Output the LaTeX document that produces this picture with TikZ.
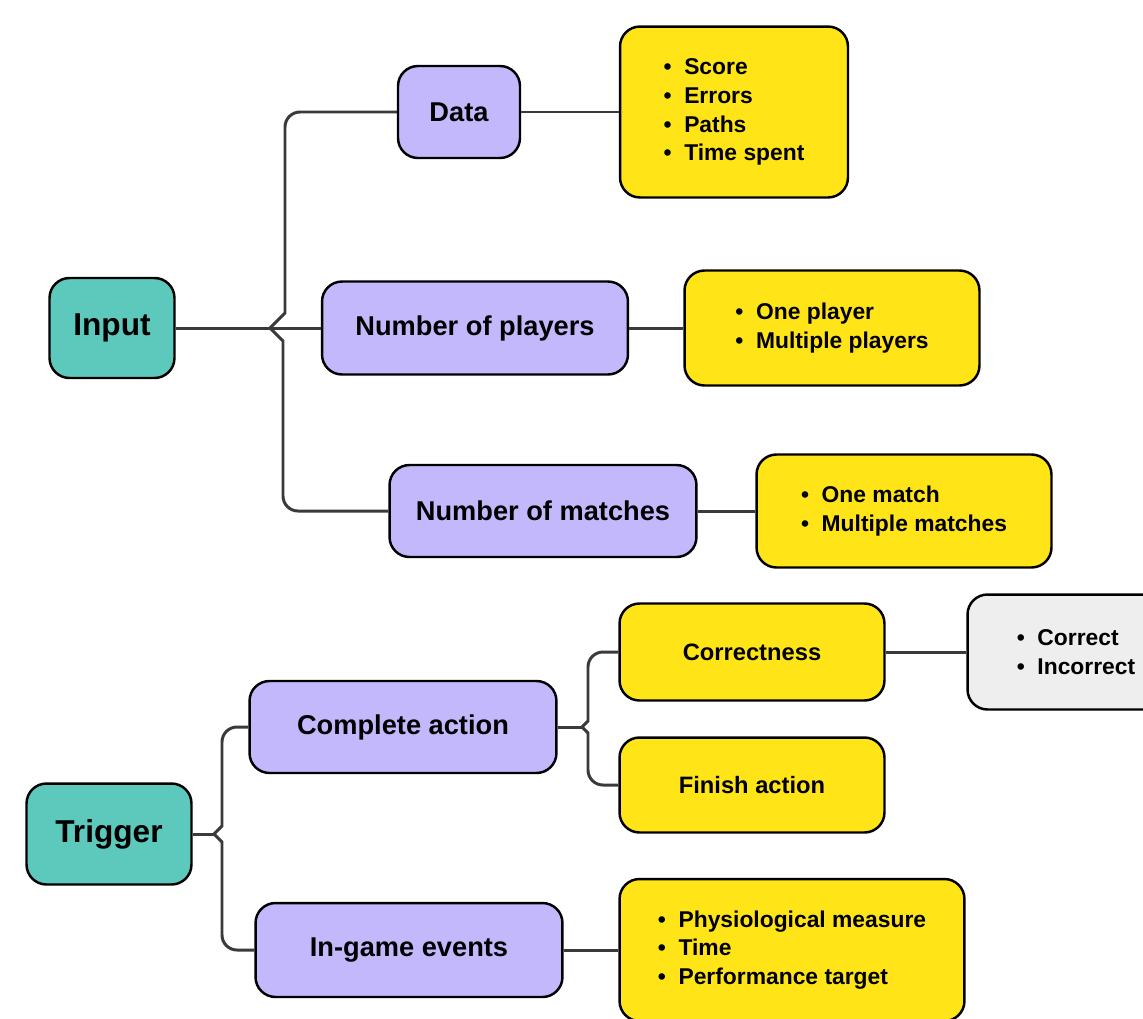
\documentclass[tikz,border=0pt]{standalone}
\usepackage{fontspec}
\setmainfont{Liberation Sans}

\definecolor{tealR}{HTML}{5CC9BC}
\definecolor{lilacC}{HTML}{C4B8FC}
\definecolor{yellowL}{HTML}{FFE517}
\definecolor{greyL}{HTML}{EEEEEE}
\definecolor{linkG}{HTML}{3A3A3A}

\tikzset{	rootbox/.style={draw=black,line width=1.4pt,fill=tealR,rounded corners=0.4cm,
				font=\bfseries\fontsize{18}{21}\selectfont},
		catbox/.style={draw=black,line width=1.4pt,fill=lilacC,rounded corners=0.4cm,
				font=\bfseries\fontsize{15.5}{18}\selectfont},
		listbox/.style={draw=black,line width=1.4pt,fill=yellowL,rounded corners=0.4cm,
				align=left,font=\bfseries\fontsize{13}{16.4}\selectfont},
		leafbox/.style={listbox,fill=greyL},
		link/.style={draw=linkG,line width=1.7pt}
		}

\begin{document}
\begin{tikzpicture}[x=0.02cm,y=-0.02cm]
	\clip (0,0) rectangle (1143,1018);

	% input part
	\node[rootbox,minimum width=2.5cm,minimum height=2cm] (input) at (112,328) {Input};
	\node[catbox,minimum width=2.44cm,minimum height=1.84cm] (data) at (459,112) {Data};
	\node[catbox,minimum width=6.12cm,minimum height=1.86cm] (players) at (475,328) {Number of players};
	\node[catbox,minimum width=6.14cm,minimum height=1.84cm] (matches) at (543,511) {Number of matches};
	\node[listbox,minimum width=4.56cm,minimum height=3.42cm] (datalist) at (734,112)
		{\textbullet\ \ Score\\ \textbullet\ \ Errors\\ \textbullet\ \ Paths\\ \textbullet\ \ Time spent};
	\node[listbox,minimum width=5.9cm,minimum height=2.3cm] (playerlist) at (832,328)
		{\textbullet\ \ One player\\ \textbullet\ \ Multiple players};
	\node[listbox,minimum width=5.9cm,minimum height=2.26cm] (matchlist) at (904,511)
		{\textbullet\ \ One match\\ \textbullet\ \ Multiple matches};

	% trigger part
	\node[rootbox,minimum width=3.3cm,minimum height=2.02cm] (trigger) at (109,834) {Trigger};
	\node[catbox,minimum width=6.14cm,minimum height=1.84cm] (complete) at (403,727) {Complete action};
	\node[catbox,minimum width=6.14cm,minimum height=1.88cm] (events) at (409,950) {In-game events};
	\node[listbox,align=center,minimum width=5.3cm,minimum height=1.94cm,font=\bfseries\fontsize{13.5}{16}\selectfont]
		(correctness) at (752,652) {Correctness};
	\node[listbox,align=center,minimum width=5.3cm,minimum height=1.9cm,font=\bfseries\fontsize{13.5}{16}\selectfont]
		(finish) at (752,785) {Finish action};
	\node[leafbox,minimum width=4.34cm,minimum height=2.3cm] (correctlist) at (1076,652)
		{\textbullet\ \ Correct\\ \textbullet\ \ Incorrect};
	\node[listbox,minimum width=6.9cm,minimum height=2.84cm] (eventlist) at (792,950)
		{\textbullet\ \ Physiological measure\\ \textbullet\ \ Time\\ \textbullet\ \ Performance target};

	% junctions
	\coordinate (inJ) at (270,328);
	\coordinate (trJ) at (214,834);
	\coordinate (coJ) at (582,727);

	\draw[link] (input.east) -- (inJ) -- (players.west);
	\draw[link] (inJ) -- ++(15,-15) [rounded corners=0.3cm] |- (data.west);
	\draw[link] (inJ) -- ++(13,13) [rounded corners=0.3cm] |- (matches.west);
	\draw[link] (data.east) -- (datalist.west);
	\draw[link] (players.east) -- (playerlist.west);
	\draw[link] (matches.east) -- (matchlist.west);

	\draw[link] (trigger.east) -- (trJ);
	\draw[link] (trJ) -- ++(8,-8) [rounded corners=0.3cm] |- (complete.west);
	\draw[link] (trJ) -- ++(8,8) [rounded corners=0.3cm] |- (events.west);
	\draw[link] (complete.east) -- (coJ);
	\draw[link] (coJ) -- ++(6,-6) [rounded corners=0.3cm] |- (correctness.west);
	\draw[link] (coJ) -- ++(6,6) [rounded corners=0.3cm] |- (finish.west);
	\draw[link] (correctness.east) -- (correctlist.west);
	\draw[link] (events.east) -- (eventlist.west);
\end{tikzpicture}
\end{document}
